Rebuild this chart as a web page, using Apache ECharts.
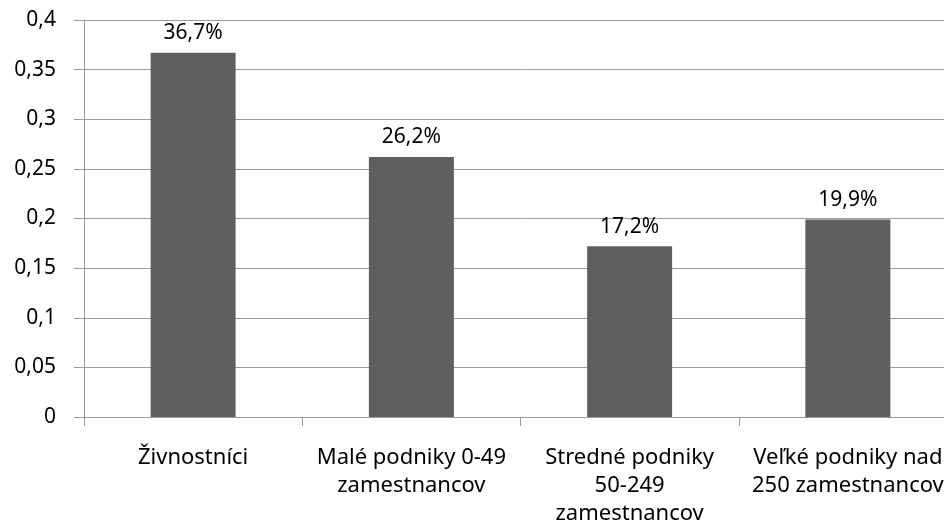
<!DOCTYPE html>
<html><head><meta charset="utf-8">
<script src="https://cdn.jsdelivr.net/npm/echarts@6/dist/echarts.min.js"></script>
<style>html,body{margin:0;padding:0;background:#fff;overflow:hidden;width:944px;height:522px}#c{width:957px;height:522px}</style>
</head><body><div id="c"></div>
<script>
var categories = ["Živnostníci", "Malé podniky 0-49\nzamestnancov", "Stredné podniky\n50-249\nzamestnancov", "Veľké podniky nad\n250 zamestnancov"];
var values = [0.367, 0.262, 0.172, 0.199];
var yMin = 0, yMax = 0.4, yStep = 0.05;

var chart = echarts.init(document.getElementById('c'));
chart.setOption({
  animation: false,
  textStyle: {fontFamily: 'Noto Sans'},
  grid: {left: 84, right: 0, top: 20, bottom: 105, containLabel: false, outerBoundsMode: 'none'},
  xAxis: {
    type: 'category', data: categories,
    axisLine: {lineStyle: {color: '#9a9a9a', width: 1}},
    axisTick: {show: true, length: 9, lineStyle: {color: '#9a9a9a'}},
    axisLabel: {color: '#000', fontSize: 22, lineHeight: 28, margin: 27, interval: 0, fontFamily: 'Noto Sans'}
  },
  yAxis: {
    type: 'value', min: yMin, max: yMax, interval: yStep,
    axisLine: {show: true, lineStyle: {color: '#9a9a9a', width: 1}},
    axisTick: {show: true, length: 10, lineStyle: {color: '#9a9a9a'}},
    splitLine: {lineStyle: {color: '#9a9a9a', width: 1}},
    axisLabel: {color: '#000', fontSize: 21, margin: 28, fontFamily: 'Noto Sans',
      formatter: function (v) { return String(Math.round(v * 100) / 100).replace('.', ','); }}
  },
  series: [{
    type: 'bar', data: values, barWidth: 85,
    itemStyle: {color: '#5f5f5f'},
    label: {show: true, position: 'top', distance: 9, color: '#000', fontSize: 21, fontFamily: 'Noto Sans',
      formatter: function (p) { return (p.value * 100).toFixed(1).replace('.', ',') + '%'; }}
  }]
});
</script></body></html>
